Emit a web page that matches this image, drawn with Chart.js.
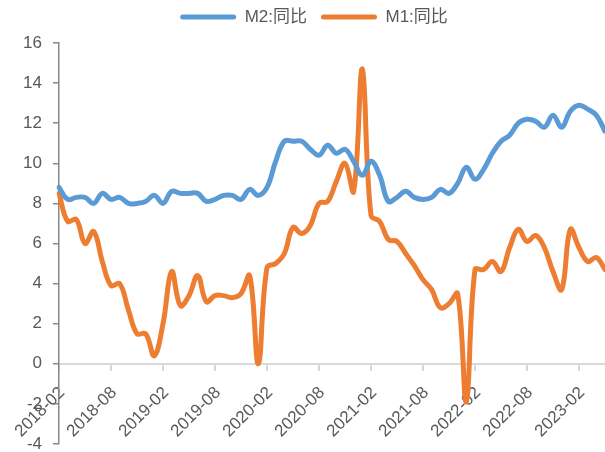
<!DOCTYPE html>
<html>
<head>
<meta charset="utf-8">
<script src="https://cdn.jsdelivr.net/npm/chart.js@4/dist/chart.umd.min.js"></script>
<style>
  html, body { margin: 0; padding: 0; background: #fff; }
  #wrap { width: 605px; height: 452px; position: relative; }
</style>
</head>
<body>
<div id="wrap"><canvas id="chart"></canvas></div>
<script>
'use strict';

/* ─── Données (%, glissement annuel) ───────────────────── */
var startYear  = 2018;
var startMonth = 2;

var m2Yoy = [
  8.8, 8.2, 8.3, 8.3, 8.0, 8.5, 8.2, 8.3, 8.0, 8.0, 8.1,            // 2018-02..12
  8.4, 8.0, 8.6, 8.5, 8.5, 8.5, 8.1, 8.2, 8.4, 8.4, 8.2, 8.7,       // 2019
  8.4, 8.8, 10.1, 11.1, 11.1, 11.1, 10.7, 10.4, 10.9, 10.5, 10.7, 10.1, // 2020
  9.4, 10.1, 9.4, 8.1, 8.3, 8.6, 8.3, 8.2, 8.3, 8.7, 8.5, 9.0,      // 2021
  9.8, 9.2, 9.7, 10.5, 11.1, 11.4, 12.0, 12.2, 12.1, 11.8, 12.4, 11.8, // 2022
  12.6, 12.9, 12.7, 12.4, 11.6                                       // 2023-01..05
];

var m1Yoy = [
  8.5, 7.1, 7.2, 6.0, 6.6, 5.1, 3.9, 4.0, 2.7, 1.5, 1.5,
  0.4, 2.0, 4.6, 2.9, 3.4, 4.4, 3.1, 3.4, 3.4, 3.3, 3.5, 4.4,
  0.0, 4.8, 5.0, 5.5, 6.8, 6.5, 6.9, 8.0, 8.1, 9.1, 10.0, 8.6,
  14.7, 7.4, 7.1, 6.2, 6.1, 5.5, 4.9, 4.2, 3.7, 2.8, 3.0, 3.5,
  -1.9, 4.7, 4.7, 5.1, 4.6, 5.8, 6.7, 6.1, 6.4, 5.8, 4.6, 3.7,
  6.7, 5.8, 5.1, 5.3, 4.7
];

var yTicks = [-4, -2, 0, 2, 4, 6, 8, 10, 12, 14, 16];

/* ─── Catégories mensuelles ───────────────────────────── */
var months = [];
for (var i = 0; i < m2Yoy.length; i++) {
  var k = startMonth - 1 + i;
  var y = startYear + Math.floor(k / 12);
  var m = (k % 12) + 1;
  months.push(y + '-' + (m < 10 ? '0' + m : m));
}

var FONT = 'Arial, "Liberation Sans", "Noto Sans CJK SC", sans-serif';
var TXT  = '#595959';

/* Hauteur fixe de la légende : la zone de tracé commence à y = 43 */
var legendHeightPlugin = {
  id: 'legendHeight',
  afterInit: function(chart) {
    var lg = chart.legend;
    if (!lg) { return; }
    var fit = lg.fit;
    lg.fit = function() {
      fit.call(this);
      this.height = 48.5;
    };
  }
};

new Chart(document.getElementById('chart'), {
  type: 'line',
  data: {
    labels: months,
    datasets: [
      {
        label: 'M2:同比',
        data: m2Yoy,
        borderColor: '#5B9BD5',
        backgroundColor: '#5B9BD5',
        borderWidth: 5,
        pointRadius: 0,
        tension: 0.4,
        borderCapStyle: 'round',
        borderJoinStyle: 'round'
      },
      {
        label: 'M1:同比',
        data: m1Yoy,
        borderColor: '#ED7D31',
        backgroundColor: '#ED7D31',
        borderWidth: 5,
        pointRadius: 0,
        tension: 0.4,
        borderCapStyle: 'round',
        borderJoinStyle: 'round'
      }
    ]
  },
  plugins: [legendHeightPlugin],
  options: {
    responsive: true,
    maintainAspectRatio: false,
    animation: false,
    layout: { padding: { left: 23, right: 0, top: -5.5, bottom: 0 } },
    plugins: {
      tooltip: { enabled: false },
      legend: {
        position: 'top',
        labels: {
          boxWidth: 56,
          boxHeight: 5,
          useBorderRadius: true,
          borderRadius: 2.5,
          padding: 14,
          color: TXT,
          font: { family: FONT, size: 17 },
          generateLabels: function(chart) {
            var items = Chart.defaults.plugins.legend.labels.generateLabels(chart);
            items.forEach(function(it) { it.lineWidth = 0; });
            return items;
          }
        }
      }
    },
    scales: {
      x: {
        position: { y: 0 },
        offset: false,
        afterBuildTicks: function(scale) {
          /* un repère tous les 6 mois */
          scale.ticks = scale.ticks.filter(function(t, idx) { return idx % 6 === 0; });
        },
        afterFit: function(scale) {
          scale.paddingLeft = 0;
          scale.paddingRight = 0;
        },
        ticks: {
          autoSkip: false,
          minRotation: 45,
          maxRotation: 45,
          padding: 13,
          labelOffset: 3,
          color: TXT,
          font: { family: FONT, size: 17 }
        },
        grid: {
          drawOnChartArea: false,
          drawTicks: true,
          tickLength: 6,
          color: '#d9d9d9',
          lineWidth: 2
        },
        border: { color: '#d9d9d9', width: 2 }
      },
      y: {
        min: -4,
        max: 16,
        afterBuildTicks: function(scale) {
          scale.ticks = yTicks.map(function(v) { return { value: v }; });
        },
        afterFit: function(scale) {
          scale.width = 36;
          scale.paddingTop = 0;
          scale.paddingBottom = 8;
        },
        ticks: {
          padding: 11,
          color: TXT,
          font: { family: FONT, size: 17 }
        },
        grid: {
          drawOnChartArea: false,
          drawTicks: true,
          tickLength: 6,
          color: '#888888',
          lineWidth: 1.5
        },
        border: { color: '#888888', width: 1.5 }
      }
    }
  }
});
</script>
</body>
</html>
